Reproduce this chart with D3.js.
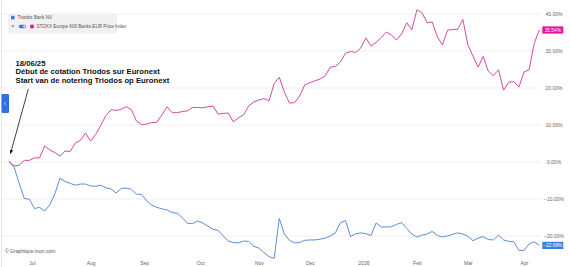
<!DOCTYPE html>
<html>
<head>
<meta charset="utf-8">
<script src="https://cdn.jsdelivr.net/npm/d3@7"></script>
<style>
  html, body { margin: 0; padding: 0; background: #fff; }
  svg { display: block; font-family: "Liberation Sans", Arial, sans-serif; }
</style>
</head>
<body>
<div id="chart"></div>
<script>
// trading calendar (Euronext)
const startDate = '2025-06-18';
const endDate = '2026-04-13';
const holidays = ['2025-12-25', '2025-12-26', '2026-01-01', '2026-04-03', '2026-04-06'];

// x tick labels, one per month
const tickLabels = ['Jul', 'Aug', 'Sep', 'Oct', 'Nov', 'Dec', '2026', 'Feb', 'Mar', 'Apr'];
const yTicks = [-20, -10, 0, 10, 20, 30, 40];

// performance since 18/06/25 in %, one reading every second trading day
const triodos = [
  0.0, -1.5, -5.9, -10.0, -10.2, -12.7, -12.4, -13.4, -11.7, -8.7,
  -4.5, -5.4, -5.9, -6.4, -6.1, -6.1, -6.6, -6.7, -6.4, -7.1,
  -7.4, -8.5, -7.3, -7.2, -7.5, -8.8, -8.9, -10.6, -11.8, -12.4,
  -12.8, -13.1, -13.8, -14.0, -15.2, -16.7, -16.8, -16.1, -16.6, -17.5,
  -18.3, -18.6, -20.1, -21.5, -21.9, -22.0, -21.5, -21.6, -22.9, -23.4,
  -24.6, -25.7, -26.2, -15.4, -19.6, -21.3, -22.0, -21.9, -21.3, -21.2,
  -21.2, -21.0, -20.7, -20.1, -19.3, -16.5, -16.0, -20.3, -19.5, -19.3,
  -19.5, -20.0, -16.6, -17.7, -17.7, -17.6, -17.0, -16.5, -18.1, -19.6,
  -20.4, -19.9, -19.6, -18.9, -20.0, -20.4, -20.1, -19.7, -19.3, -19.6,
  -20.2, -21.4, -20.7, -20.3, -21.1, -21.2, -19.9, -21.2, -21.6, -21.7,
  -24.0, -24.0, -22.3, -21.7, -22.68
];
const stoxxBanks = [
  0.0, -1.2, -1.0, 0.3, 0.3, 1.0, 1.0, 4.2, 3.1, 2.4,
  1.5, 2.8, 2.7, 5.0, 5.7, 7.7, 5.5, 7.3, 9.8, 12.4,
  14.0, 13.8, 14.1, 14.8, 14.0, 10.9, 10.0, 10.1, 10.5, 10.6,
  12.6, 14.8, 13.2, 13.2, 13.5, 13.7, 14.6, 14.6, 14.5, 14.8,
  15.0, 12.8, 13.0, 13.1, 10.7, 11.8, 12.6, 15.0, 16.1, 16.6,
  17.0, 16.4, 21.0, 22.8, 18.8, 15.8, 15.9, 17.7, 20.7, 21.3,
  21.8, 22.3, 23.1, 25.5, 25.7, 26.9, 29.3, 29.7, 29.5, 30.7,
  33.4, 31.2, 32.2, 33.5, 35.0, 34.2, 32.8, 34.5, 37.5, 35.6,
  41.0, 40.2, 37.5, 37.7, 33.7, 31.5, 35.5, 35.7, 35.7, 38.4,
  31.5, 28.5, 25.5, 28.4, 24.4, 23.2, 24.8, 19.3, 21.4, 21.6,
  20.1, 24.2, 24.8, 31.9, 35.54
];

const seriesNames = ['Triodos Bank NV', 'STOXX Europe 600 Banks EUR Price Index'];
const colors = { triodos: '#5a8ed8', stoxx: '#d04ca4', triodosTag: '#3a7ee3', stoxxTag: '#e3149a' };

const fmtDay = d3.timeFormat('%Y-%m-%d');
const tradingDays = d3.timeDay.range(new Date(startDate + 'T00:00'), d3.timeDay.offset(new Date(endDate + 'T00:00'), 1))
  .filter(d => d.getDay() !== 0 && d.getDay() !== 6 && !holidays.includes(fmtDay(d)))
  .map(fmtDay);
const sampleDays = tradingDays.filter((d, i) => i % 2 === 0);

const width = 570, height = 267;
const svg = d3.select('#chart').append('svg')
  .attr('width', width).attr('height', height);

const x = d3.scalePoint().domain(tradingDays).range([9, 539.3]);
const y = d3.scaleLinear().domain([-20, 40]).range([235.5, 13.5]);

// left frame line
svg.append('line').attr('x1', 1.5).attr('x2', 1.5).attr('y1', 0).attr('y2', height)
  .attr('stroke', '#e6e6e6');

// grid + right axis
const yAxis = svg.append('g')
  .attr('transform', 'translate(541,0)')
  .call(d3.axisRight(y).tickValues(yTicks).tickSize(-541).tickFormat(d => d3.format('.2f')(d) + '%'));
yAxis.select('.domain').remove();
yAxis.selectAll('.tick line').attr('stroke', '#efefef');
yAxis.selectAll('.tick text')
  .attr('x', 13).attr('text-anchor', 'middle')
  .attr('fill', '#666').style('font-size', '5px');

// month axis
const monthStarts = d3.groups(tradingDays, d => d.slice(0, 7)).map(g => g[1][0]).filter(d => d >= '2025-07-01');
const xAxis = svg.append('g')
  .attr('transform', 'translate(0,260)')
  .call(d3.axisBottom(x).tickValues(monthStarts).tickSize(0).tickFormat((d, i) => tickLabels[i]));
xAxis.select('.domain').remove();
xAxis.selectAll('.tick text').attr('fill', '#666').style('font-size', '5px').attr('dy', '0.3em');

const line = d3.line()
  .x((d, i) => x(sampleDays[i]))
  .y(d => y(d));

svg.append('path').datum(stoxxBanks)
  .attr('d', line).attr('fill', 'none')
  .attr('stroke', colors.stoxx).attr('stroke-width', 1).attr('stroke-linejoin', 'round');
svg.append('path').datum(triodos)
  .attr('d', line).attr('fill', 'none')
  .attr('stroke', colors.triodos).attr('stroke-width', 1).attr('stroke-linejoin', 'round');

// last value tags
const lastDay = sampleDays[sampleDays.length - 1];
[[stoxxBanks, colors.stoxxTag], [triodos, colors.triodosTag]].forEach(([vals, c]) => {
  const v = vals[vals.length - 1];
  const g = svg.append('g').attr('transform', `translate(${x(lastDay) + 3},${y(v)})`);
  g.append('rect').attr('x', 0).attr('y', -3.6).attr('width', 21).attr('height', 7.2).attr('fill', c);
  g.append('text').attr('x', 10.5).attr('y', 0).attr('dy', '0.35em')
    .attr('text-anchor', 'middle').attr('fill', '#fff').style('font-size', '4.8px')
    .text(d3.format('.2f')(v) + '%');
});

// legend
const legend = svg.append('g');
legend.append('rect').attr('x', 8).attr('y', 14).attr('width', 109).attr('height', 19.5)
  .attr('rx', 1).attr('fill', '#f1f1f1');
legend.append('rect').attr('x', 11).attr('y', 15.8).attr('width', 3.6).attr('height', 3.6).attr('fill', colors.triodosTag);
legend.append('text').attr('x', 17.5).attr('y', 19.3).attr('fill', '#555').style('font-size', '4.6px').text(seriesNames[0]);
legend.append('text').attr('x', 12.7).attr('y', 28.2).attr('text-anchor', 'middle')
  .attr('fill', '#555').style('font-size', '5px').text('×');
legend.append('rect').attr('x', 18.8).attr('y', 24.8).attr('width', 7.2).attr('height', 3.4).attr('rx', 1.7).attr('fill', colors.triodosTag);
legend.append('circle').attr('cx', 24.3).attr('cy', 26.5).attr('r', 1.1).attr('fill', '#fff');
legend.append('rect').attr('x', 30.2).attr('y', 24.7).attr('width', 3.6).attr('height', 3.6).attr('fill', colors.stoxxTag);
legend.append('text').attr('x', 36.5).attr('y', 28.2).attr('fill', '#555').style('font-size', '4.6px').text(seriesNames[1]);

// side tab
svg.append('rect').attr('x', 1.5).attr('y', 94).attr('width', 7.5).attr('height', 19).attr('rx', 1.2).attr('fill', '#2f6fe4');
svg.append('path').attr('d', 'M6,101.8 L4.3,103.5 L6,105.2').attr('fill', 'none').attr('stroke', '#fff').attr('stroke-width', 0.6);

// annotation
const note = svg.append('text').attr('x', 15.5).attr('y', 65.5)
  .attr('fill', '#111').style('font-size', '7.7px').style('font-weight', 'bold');
['18/06/25', 'Début de cotation Triodos sur Euronext', 'Start van de notering Triodos op Euronext']
  .forEach((t, i) => note.append('tspan').attr('x', 15.5).attr('dy', i ? 8.9 : 0).text(t));

svg.append('defs').append('marker')
  .attr('id', 'arr').attr('viewBox', '0 0 10 10').attr('refX', 9).attr('refY', 5)
  .attr('markerWidth', 5).attr('markerHeight', 5).attr('orient', 'auto')
  .append('path').attr('d', 'M0,1 L10,5 L0,9 Z').attr('fill', '#111');
svg.append('line')
  .attr('x1', 28.3).attr('y1', 89)
  .attr('x2', x(startDate) + 1.5).attr('y2', y(0) - 8)
  .attr('stroke', '#111').attr('stroke-width', 0.8).attr('marker-end', 'url(#arr)');

// credit
svg.append('text').attr('x', 5).attr('y', 252.5).attr('fill', '#555').style('font-size', '5px')
  .text('© Graphique mon.com');
</script>
</body>
</html>
